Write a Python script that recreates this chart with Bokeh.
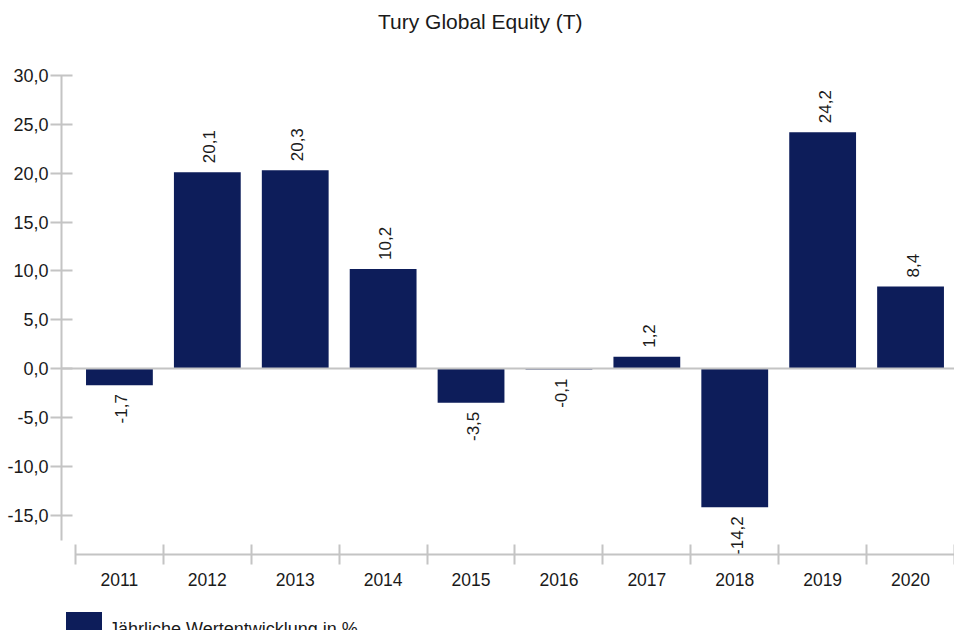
import math
from bokeh.plotting import figure
from bokeh.layouts import column
from bokeh.models import (ColumnDataSource, Range1d, FixedTicker, Span, Legend,
                          LegendItem, CustomJSTickFormatter, Div)
from bokeh.embed import file_html
from bokeh.resources import INLINE
from bokeh.core.properties import value

# ---- data ----
years = ["2011", "2012", "2013", "2014", "2015", "2016", "2017", "2018", "2019", "2020"]
returns = [-1.7, 20.1, 20.3, 10.2, -3.5, -0.1, 1.2, -14.2, 24.2, 8.4]
y_ticks = [-15, -10, -5, 0, 5, 10, 15, 20, 25, 30]
series_name = "Jährliche Wertentwicklung in %"
title_text = "Tury Global Equity (T)"

FONT = "Liberation Sans"
BAR = "#0d1d5a"
GREY = "#c4c4c4"
TXT = "#1a1a1a"

xs = list(range(len(years)))
labels = [f"{v:.1f}".replace(".", ",") for v in returns]

src = ColumnDataSource(dict(x=xs, top=returns, label=labels))
pos = ColumnDataSource(dict(
    x=[x for x, v in zip(xs, returns) if v >= 0],
    y=[v for v in returns if v >= 0],
    label=[l for l, v in zip(labels, returns) if v >= 0]))
neg = ColumnDataSource(dict(
    x=[x for x, v in zip(xs, returns) if v < 0],
    y=[v for v in returns if v < 0],
    label=[l for l, v in zip(labels, returns) if v < 0]))

# ---- title strip ----
title_div = Div(text=title_text, width=954, height=44, margin=0,
                styles={"font-family": FONT, "font-size": "21px", "color": TXT,
                        "line-height": "44px", "text-indent": "378px",
                        "white-space": "nowrap"})

# ---- main chart ----
p = figure(width=954, height=556, output_backend="svg", toolbar_location=None,
           x_range=Range1d(xs[0] - 0.659, xs[-1] + 0.5),
           y_range=Range1d(-19.04, 31.54),
           min_border_left=61, min_border_right=0, min_border_top=16,
           min_border_bottom=46)

p.outline_line_color = None
p.xgrid.visible = False
p.ygrid.visible = False
p.background_fill_color = "white"
p.border_fill_color = "white"
p.title.text = ""
p.title.standoff = 0
p.title.text_font_size = "1px"

# y axis
ya = p.yaxis[0]
ya.ticker = FixedTicker(ticks=y_ticks, minor_ticks=[])
ya.formatter = CustomJSTickFormatter(code="return tick.toFixed(1).replace('.', ',')")
ya.bounds = (-17.6, y_ticks[-1])
ya.axis_line_color = GREY
ya.axis_line_width = 2
ya.major_tick_line_color = GREY
ya.major_tick_line_width = 2
ya.major_tick_in = 11
ya.major_tick_out = 11
ya.minor_tick_line_color = None
ya.major_label_standoff = 2
ya.major_label_text_font = FONT
ya.major_label_text_font_size = "18px"
ya.major_label_text_color = TXT

# x axis
xa = p.xaxis[0]
xa.ticker = FixedTicker(ticks=xs, minor_ticks=[x - 0.5 for x in xs] + [xs[-1] + 0.5])
xa.formatter = CustomJSTickFormatter(args=dict(years=years),
                                     code="return years[Math.round(tick)]")
xa.bounds = (xs[0] - 0.5, xs[-1] + 0.5)
xa.axis_line_color = GREY
xa.axis_line_width = 2
xa.major_tick_line_color = None
xa.major_tick_in = 0
xa.major_tick_out = 10
xa.minor_tick_line_color = GREY
xa.minor_tick_line_width = 2
xa.minor_tick_in = 10
xa.minor_tick_out = 10
xa.major_label_standoff = 8
xa.major_label_text_font = FONT
xa.major_label_text_font_size = "17.5px"
xa.major_label_text_color = TXT

p.add_layout(Span(location=0, dimension="width", line_color=GREY, line_width=2))

bars = p.vbar(x="x", top="top", bottom=0, width=0.76, source=src,
              fill_color=BAR, line_color=None)

p.text(x="x", y="y", text="label", source=pos, angle=math.pi / 2,
       text_align="left", text_baseline="middle", y_offset=-9, x_offset=2,
       text_font=value(FONT), text_font_size="17px", text_color=TXT)
p.text(x="x", y="y", text="label", source=neg, angle=math.pi / 2,
       text_align="right", text_baseline="middle", y_offset=9, x_offset=2,
       text_font=value(FONT), text_font_size="17px", text_color=TXT)

# ---- legend strip (separate small figure below the chart) ----
pl = figure(width=954, height=30, output_backend="svg", toolbar_location=None,
            x_range=Range1d(100, 101), y_range=Range1d(100, 101),
            x_axis_location=None, y_axis_location=None,
            min_border_left=58, min_border_right=0, min_border_top=7,
            min_border_bottom=0)
pl.outline_line_color = None
pl.xgrid.visible = False
pl.ygrid.visible = False
pl.title.text = ""
pl.title.standoff = 0
pl.title.text_font_size = "1px"
legend_bars = pl.vbar(x="x", top="top", bottom=0, width=0.76, source=src,
                      fill_color=BAR, line_color=None)

legend = Legend(items=[LegendItem(label=series_name, renderers=[legend_bars])],
                location="top_left", orientation="horizontal",
                border_line_color=None, background_fill_alpha=0,
                padding=0, margin=0, glyph_width=45, glyph_height=45,
                label_text_font=FONT, label_text_font_size="18px",
                label_text_color=TXT, label_standoff=3, spacing=0)
pl.add_layout(legend)

layout = column(title_div, p, pl, spacing=0)
open("out.html", "w").write(file_html(layout, INLINE))
